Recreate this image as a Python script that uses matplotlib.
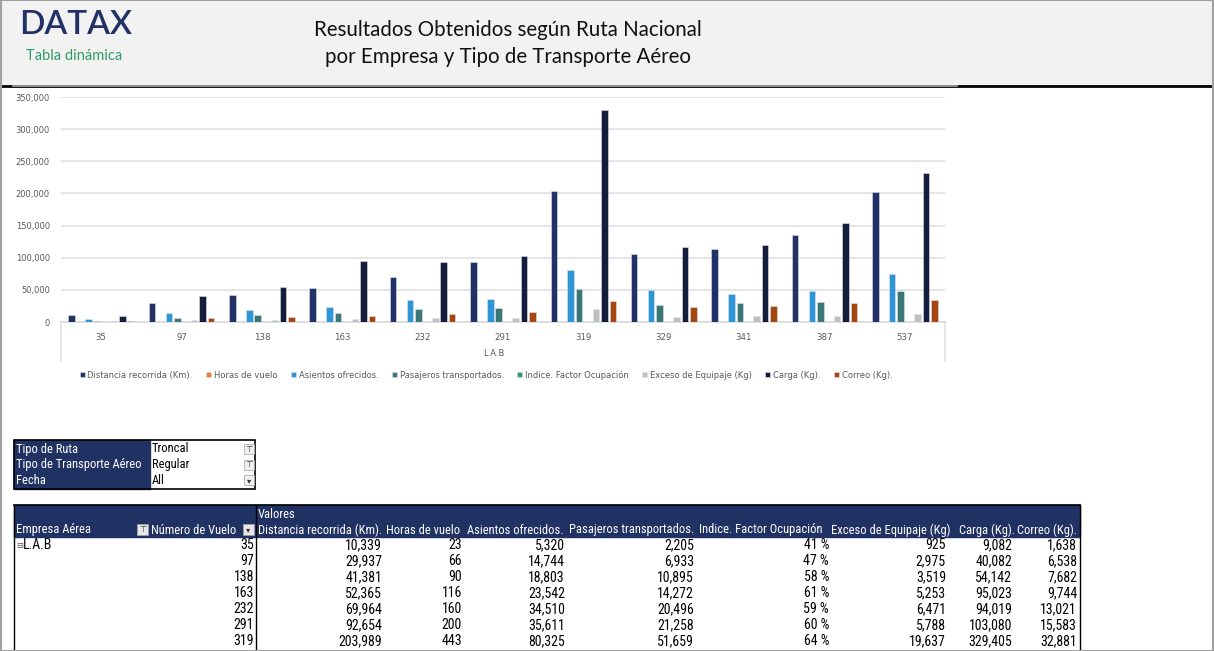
import numpy as np
import matplotlib
matplotlib.use('Agg')
import matplotlib.pyplot as plt
from matplotlib import font_manager
from matplotlib.patches import Rectangle

# %% datos
vuelos = ['35', '97', '138', '163', '232', '291', '319', '329', '341', '387', '537']
distancia = [10339, 29937, 41381, 52365, 69964, 92654, 203989, 105200, 114300, 134600, 201600]
horas = [23, 66, 90, 116, 160, 200, 443, 231, 250, 292, 441]
asientos = [5320, 14744, 18803, 23542, 34510, 35611, 80325, 49600, 44100, 48200, 75300]
pasajeros = [2205, 6933, 10895, 14272, 20496, 21258, 51659, 26100, 29000, 30600, 48200]
indice = [0.41, 0.47, 0.58, 0.61, 0.59, 0.60, 0.64, 0.53, 0.66, 0.63, 0.64]
exceso = [925, 2975, 3519, 5253, 6471, 5788, 19637, 7600, 9800, 9800, 12200]
carga = [9082, 40082, 54142, 95023, 94019, 103080, 329405, 116300, 120200, 153800, 232400]
correo = [1638, 6538, 7682, 9744, 13021, 15583, 32881, 23100, 25000, 29000, 33600]

series = ['Distancia recorrida (Km).', 'Horas de vuelo', 'Asientos ofrecidos.',
          'Pasajeros transportados.', 'Indice. Factor Ocupación', 'Exceso de Equipaje (Kg)',
          'Carga (Kg).', 'Correo (Kg).']
valores = [distancia, horas, asientos, pasajeros, indice, exceso, carga, correo]
colores = ['#223266', '#ed7d31', '#2e95d6', '#3a7776', '#2e9c62', '#bfbfbf', '#141e3c', '#a4470f']

filtros = [('Tipo de Ruta', 'Troncal'), ('Tipo de Transporte Aéreo', 'Regular'), ('Fecha', 'All')]

# %% fuentes
nombres = {f.name for f in font_manager.fontManager.ttflist}
def pick(*fams):
    for f in fams:
        if f in nombres:
            return f
    return 'DejaVu Sans'
f_tab = pick('Liberation Sans Narrow', 'Roboto Condensed', 'Open Sans Condensed', 'Roboto')
f_tit = pick('Lato', 'Open Sans')

W, H = 1214, 651
navy = '#203163'
fig = plt.figure(figsize=(W / 100, H / 100), dpi=100)
fig.patch.set_facecolor('white')

bg = fig.add_axes([0, 0, 1, 1])
bg.set_xlim(0, W)
bg.set_ylim(H, 0)
bg.axis('off')

# cabecera
bg.add_patch(Rectangle((0, 0), W, 86, color='#f2f2f2', zorder=0))
bg.plot([0, W], [86, 86], color='black', lw=2)
bg.plot([13, 957], [86, 86], color='#a6a6a6', lw=1.2)
bg.add_patch(Rectangle((1, 0), W - 2.5, H, fill=False, ec='#a0a0a0', lw=1.5, zorder=5))
bg.text(19, 25, 'DATAX', fontsize=24, color='#223266', fontweight='semibold',
        family=f_tit, va='center', ha='left')
bg.text(26, 56, 'Tabla dinámica', fontsize=10.5, color='#2f9b6a', family=f_tit,
        va='center', ha='left')
bg.text(508, 30, 'Resultados Obtenidos según Ruta Nacional', fontsize=14.8, family=f_tit,
        va='center', ha='center', color='#111111')
bg.text(508, 57, 'por Empresa y Tipo de Transporte Aéreo', fontsize=14.8, family=f_tit,
        va='center', ha='center', color='#111111')

# %% grafico
ax = fig.add_axes([61 / W, 1 - 322 / H, (945 - 61) / W, (322 - 97) / H])
ax.set_facecolor('none')
x = np.arange(len(vuelos))
paso = 0.105
handles = []
for i, (nom, vals, c) in enumerate(zip(series, valores, colores)):
    off = (i - 3.5) * paso
    b = ax.bar(x + off, vals, width=0.082, color=c, edgecolor='#dde2ec', linewidth=0.4,
               label=nom, zorder=3)
    handles.append(b)
ax.set_xlim(-0.5, len(vuelos) - 0.5)
ax.set_ylim(0, 350000)
ax.set_yticks(np.arange(0, 350001, 50000))
ax.set_yticklabels([f'{v:,.0f}' for v in np.arange(0, 350001, 50000)])
ax.yaxis.grid(True, color='#e3e3e3', lw=1.3, zorder=0)
ax.tick_params(axis='y', length=0, pad=8, labelsize=6, labelcolor='#595959')
ax.set_xticks(x)
ax.set_xticklabels(vuelos)
ax.tick_params(axis='x', length=0, pad=8, labelsize=6.2, labelcolor='#595959')
for s in ['top', 'right', 'left']:
    ax.spines[s].set_visible(False)
ax.spines['bottom'].set_color('#d9d9d9')
ax.spines['bottom'].set_linewidth(1.2)
bg.plot([61, 61], [322, 361], color='#e0e0e0', lw=1.2)
bg.plot([945, 945], [322, 361], color='#e0e0e0', lw=1.2)
bg.text(494, 353, 'L.A.B', fontsize=6, color='#595959', ha='center', va='center')

fig.legend(handles, series, ncol=8, loc='center left', bbox_to_anchor=(72 / W, 1 - 375 / H),
           frameon=False, fontsize=6, handlelength=0.6, handleheight=0.6, handletextpad=0.35,
           columnspacing=1.6, labelcolor='#595959')

# %% filtros
bg.add_patch(Rectangle((14, 440), 136, 49, color=navy, zorder=2))
bg.add_patch(Rectangle((14, 440), 241, 49, fill=False, ec='black', lw=1.2, zorder=3))
for k, (a, b) in enumerate(filtros):
    yy = 449 + k * 15.7
    bg.text(16, yy, a, fontsize=9, color='white', family=f_tab, va='center', zorder=4)
    bg.text(152, yy, b, fontsize=9, color='black', family=f_tab, va='center', zorder=4)
    bg.add_patch(Rectangle((244, yy - 5), 10, 10, fc='#f0f0f0', ec='#b0b0b0', lw=0.6, zorder=4))
    bg.text(249, yy, '▾' if k == 2 else '⊤', fontsize=6, color='#333333', ha='center',
            va='center', zorder=5)

# %% tabla
top, hdr = 505, 537
row_h = 16
bg.add_patch(Rectangle((14, top), 1066, hdr - top, color=navy, zorder=2))
bg.plot([14, 1080], [top, top], color='black', lw=1.2, zorder=3)
for xv in [14, 256, 1080]:
    bg.plot([xv, xv], [top, H], color='black', lw=1, zorder=3)
bg.text(258, 514, 'Valores', fontsize=9, color='white', family=f_tab, va='center', zorder=4)
bg.text(16, 530, 'Empresa Aérea', fontsize=9, color='white', family=f_tab, va='center', zorder=4)
bg.text(151, 530, 'Número de Vuelo', fontsize=9, color='white', family=f_tab, va='center', zorder=4)
for xi, g in [(137, '⊤'), (243, '▾')]:
    bg.add_patch(Rectangle((xi, 524), 11, 11, fc='#e8e8e8', ec='#a0a0a0', lw=0.6, zorder=4))
    bg.text(xi + 5.5, 529.5, g, fontsize=6, color='#333333', ha='center', va='center', zorder=5)

hdr_x = [258, 386, 467, 569, 699, 831, 959, 1017]
num_x = [382, 462, 565, 694, 829, 946, 1012, 1077]
for nom, hx in zip(series, hdr_x):
    bg.text(hx, 530, nom, fontsize=9, color='white', family=f_tab, va='center', zorder=4)

bg.text(16, 545, '⊟', fontsize=6, color='#555555', va='center', zorder=4)
bg.text(23, 545, 'L.A.B', fontsize=10, color='black', family=f_tab, va='center', zorder=4)
for r, v in enumerate(vuelos):
    yy = 545 + r * row_h
    if yy > H - 6:
        break
    bg.text(254, yy, v, fontsize=10, family=f_tab, ha='right', va='center', zorder=4)
    for j, (vals, nx) in enumerate(zip(valores, num_x)):
        s = f'{vals[r] * 100:.0f} %' if j == 4 else f'{vals[r]:,.0f}'
        bg.text(nx, yy, s, fontsize=10, family=f_tab, ha='right', va='center', zorder=4)

fig.savefig('out.png', dpi=100)
